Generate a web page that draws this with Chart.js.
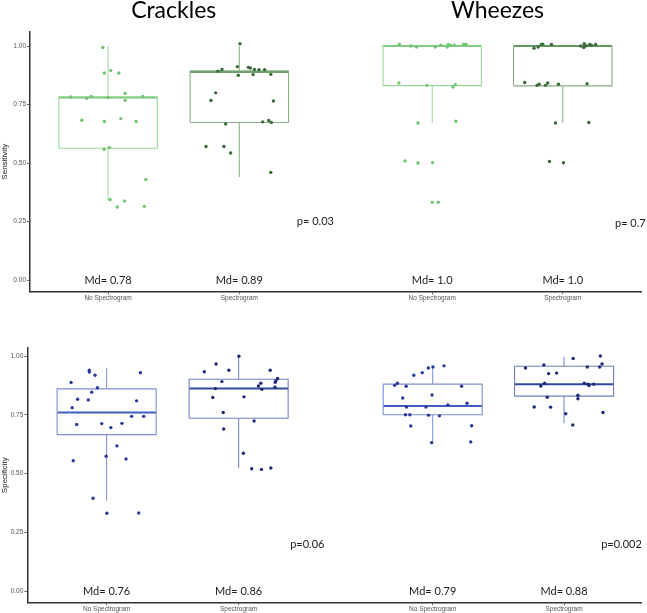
<!DOCTYPE html>
<html lang="en">

<head>
    <meta charset="UTF-8">
    <title>Crackles / Wheezes</title>
    <script src="https://cdn.jsdelivr.net/npm/chart.js@4.4.1/dist/chart.umd.min.js"></script>
    <style>
        body { margin: 0; background: #fff; }
        #wrap { position: relative; width: 647px; height: 613px; }
        #topChart { position: absolute; left: 0; top: 0; }
        #bottomChart { position: absolute; left: 0; top: 305px; }
    </style>
</head>

<body>
    <div id="wrap">
        <canvas id="topChart" width="647" height="305"></canvas>
        <canvas id="bottomChart" width="647" height="308"></canvas>
    </div>

<script>
    // categories / labels
    const xLabels = ['No Spectrogram', 'Spectrogram', 'No Spectrogram', 'Spectrogram'];
    const sounds = ['Crackles', 'Wheezes'];
    const yTicks = [0, 0.25, 0.5, 0.75, 1];

    // box stats per group: [lower whisker, q1, median, q3, upper whisker]
    const sensBoxes = [
        [0.34, 0.563, 0.78, 0.782, 1.0],
        [0.44, 0.673, 0.89, 0.893, 1.0],
        [0.672, 0.831, 1.0, 1.0, 1.0],
        [0.672, 0.83, 1.0, 1.0, 1.0]
    ];
    const specBoxes = [
        [0.385, 0.666, 0.76, 0.861, 0.949],
        [0.523, 0.736, 0.862, 0.902, 1.0],
        [0.631, 0.751, 0.788, 0.881, 0.956],
        [0.715, 0.83, 0.881, 0.957, 0.997]
    ];

    const sensMd = ['Md= 0.78', 'Md= 0.89', 'Md= 1.0', 'Md= 1.0'];
    const specMd = ['Md= 0.76', 'Md= 0.86', 'Md= 0.79', 'Md= 0.88'];
    const sensP = ['p= 0.03', 'p= 0.7'];
    const specP = ['p=0.06', 'p=0.002'];

    // individual values and their horizontal jitter
    const sensCrackNo = [0.994, 0.885, 0.895, 0.885, 0.797, 0.768, 0.782, 0.777, 0.785, 0.78, 0.785,
        0.683, 0.678, 0.69, 0.678, 0.559, 0.566, 0.43, 0.344, 0.338, 0.312, 0.315];
    const sensCrackNoJit = [-0.04, -0.028, 0.02, 0.082, 0.13, 0.13, -0.285, -0.163, -0.127, 0.0, 0.265,
        -0.2, -0.028, 0.097, 0.214, -0.03, 0.01, 0.288, 0.015, 0.125, 0.07, 0.277];

    const sensCrackSpec = [1.01, 0.9, 0.893, 0.912, 0.875, 0.909, 0.906, 0.9, 0.899, 0.899, 0.878, 0.879,
        0.8, 0.767, 0.765, 0.667, 0.676, 0.682, 0.673, 0.571, 0.571, 0.543, 0.46];
    const sensCrackSpecJit = [0.005, -0.132, -0.163, -0.015, -0.008, 0.069, 0.084, 0.115, 0.15, 0.193, 0.105, 0.24,
        -0.18, -0.216, 0.26, -0.104, 0.178, 0.224, 0.244, -0.254, -0.117, -0.066, 0.24];

    const sensWheezeNo = [1.007, 1.0, 0.996, 0.996, 1.004, 1.007, 0.996, 1.004, 1.004, 1.007, 1.008,
        0.842, 0.832, 0.825, 0.835, 0.671, 0.679, 0.509, 0.5, 0.502, 0.332, 0.333];
    const sensWheezeNoJit = [-0.25, -0.163, -0.12, 0.023, 0.066, 0.122, 0.115, 0.14, 0.168, 0.239, 0.257,
        -0.254, -0.04, 0.158, 0.176, -0.109, 0.18, -0.208, -0.109, 0.003, 0.0, 0.046];

    const sensWheezeSpec = [0.991, 0.996, 1.007, 1.008, 1.007, 1.0, 0.994, 1.01, 1.001, 1.007, 1.003, 1.007,
        0.844, 0.832, 0.837, 0.832, 0.842, 0.837, 0.839, 0.671, 0.673, 0.507, 0.501];
    const sensWheezeSpecJit = [-0.219, -0.188, -0.163, -0.153, -0.086, 0.137, 0.16, 0.163, 0.178, 0.206, 0.219, 0.25,
        -0.29, -0.196, -0.181, -0.132, -0.115, -0.033, 0.185, -0.056, 0.198, -0.102, 0.005];

    const specCrackNo = [0.94, 0.933, 0.919, 0.93, 0.888, 0.866, 0.847, 0.817, 0.814, 0.81, 0.781, 0.744,
        0.744, 0.709, 0.713, 0.696, 0.714, 0.618, 0.555, 0.574, 0.562, 0.395, 0.331, 0.332];
    const specCrackNoJit = [-0.131, -0.131, -0.088, 0.256, -0.269, -0.07, -0.113, -0.22, -0.139, 0.227, -0.261, 0.189,
        0.281, -0.227, -0.037, 0.032, 0.116, 0.078, -0.253, -0.004, 0.147, -0.103, 0.002, 0.243];

    const specCrackSpec = [1.0, 0.934, 0.967, 0.94, 0.94, 0.892, 0.862, 0.824, 0.827, 0.873, 0.885, 0.859,
        0.889, 0.895, 0.905, 0.868, 0.76, 0.69, 0.724, 0.587, 0.521, 0.518, 0.524];
    const specCrackSpecJit = [0.002, -0.26, -0.171, -0.074, 0.239, -0.127, -0.176, -0.196, 0.04, 0.15, 0.168, 0.176,
        0.277, 0.282, 0.295, 0.275, -0.117, -0.113, 0.117, 0.036, 0.099, 0.173, 0.244];

    const specWheezeNo = [0.959, 0.954, 0.95, 0.93, 0.919, 0.876, 0.885, 0.872, 0.872, 0.822, 0.835, 0.8,
        0.784, 0.784, 0.792, 0.751, 0.751, 0.749, 0.746, 0.703, 0.704, 0.632, 0.635];
    const specWheezeNoJit = [0.086, 0.002, -0.033, -0.079, -0.143, -0.288, -0.267, -0.201, 0.219, -0.227, -0.005, 0.26,
        -0.198, -0.051, 0.115, -0.206, -0.173, -0.031, 0.051, -0.166, 0.295, -0.008, 0.288];

    const specWheezeSpec = [0.99, 1.001, 0.95, 0.963, 0.954, 0.954, 0.967, 0.926, 0.928, 0.873, 0.885, 0.885,
        0.875, 0.881, 0.881, 0.834, 0.819, 0.825, 0.784, 0.783, 0.755, 0.707, 0.76];
    const specWheezeSpecJit = [0.069, 0.275, -0.292, -0.153, 0.176, 0.27, 0.288, -0.117, -0.056, -0.176, -0.147, 0.153,
        0.189, 0.181, 0.224, 0.105, 0.105, -0.127, -0.226, -0.102, 0.013, 0.066, 0.295];

    // layout
    const catPos = [1, 2, 3.47, 4.465];
    const halfBox = 0.375;

    const greenStyle = [
        { box: '#9ad89a', mid: '#6cc26c', dot: '#72c472' },
        { box: '#86ad86', mid: '#3f7f3f', dot: '#3b693b' }
    ];
    const blueStyle = [
        { box: '#7d8fd6', mid: '#3f5fc0', dot: '#2b3a9a' },
        { box: '#6f7fbf', mid: '#2f4a9e', dot: '#1f2a78' }
    ];

    function lineSet(points, color, width) {
        return {
            type: 'scatter', data: points, showLine: true, fill: false,
            borderColor: color, borderWidth: width, pointRadius: 0, order: 2
        };
    }

    function buildDatasets(boxes, values, jitters, styles) {
        const sets = [];
        boxes.forEach((b, i) => {
            const c = catPos[i];
            const st = styles[i % 2];
            const lo = b[0], q1 = b[1], med = b[2], q3 = b[3], hi = b[4];
            sets.push(lineSet([{ x: c, y: q3 }, { x: c, y: hi }], st.box, 1));
            sets.push(lineSet([{ x: c, y: lo }, { x: c, y: q1 }], st.box, 1));
            sets.push(lineSet([
                { x: c - halfBox, y: q1 }, { x: c + halfBox, y: q1 }, { x: c + halfBox, y: q3 },
                { x: c - halfBox, y: q3 }, { x: c - halfBox, y: q1 }], st.box, 1.1));
            sets.push(lineSet([{ x: c - halfBox, y: med }, { x: c + halfBox, y: med }], st.mid, 2));
            sets.push({
                type: 'scatter',
                data: values[i].map((v, k) => ({ x: c + jitters[i][k], y: v })),
                pointRadius: 1.7, pointBorderWidth: 0, backgroundColor: st.dot, order: 1
            });
        });
        return sets;
    }

    const textPlugin = {
        id: 'panelText',
        afterDatasetsDraw(chart, args, opts) {
            const ctx = chart.ctx;
            const xs = chart.scales.x, ys = chart.scales.y;
            ctx.save();
            ctx.fillStyle = '#1b1b1b';
            ctx.textAlign = 'center';
            ctx.textBaseline = 'middle';
            ctx.font = '11px Lato, "Liberation Sans", sans-serif';
            opts.md.forEach((t, i) => ctx.fillText(t, xs.getPixelForValue(catPos[i]), ys.getPixelForValue(0)));
            opts.p.forEach((t, i) => ctx.fillText(t, xs.getPixelForValue(opts.pAt[i][0]), ys.getPixelForValue(opts.pAt[i][1])));
            if (opts.titles) {
                ctx.font = '23px Lato, "Liberation Sans", sans-serif';
                ctx.fillStyle = '#000';
                ctx.textBaseline = 'alphabetic';
                opts.titles.forEach((t, i) => {
                    const cx = (xs.getPixelForValue(catPos[2 * i]) + xs.getPixelForValue(catPos[2 * i + 1])) / 2;
                    ctx.fillText(t, cx, 18);
                });
            }
            ctx.restore();
        }
    };

    function createPanel(id, cfg) {
        return new Chart(document.getElementById(id), {
            type: 'scatter',
            data: { datasets: buildDatasets(cfg.boxes, cfg.values, cfg.jitters, cfg.styles) },
            options: {
                responsive: false,
                animation: false,
                layout: { padding: { left: 0, top: cfg.top, right: 6, bottom: 0 } },
                plugins: {
                    legend: { display: false },
                    tooltip: { enabled: false },
                    panelText: { md: cfg.md, p: cfg.p, pAt: cfg.pAt, titles: cfg.titles }
                },
                scales: {
                    x: {
                        type: 'linear', min: cfg.xMin, max: cfg.xMax,
                        afterBuildTicks: s => { s.ticks = catPos.map(v => ({ value: v })); },
                        afterFit: s => { s.height = cfg.xHeight; },
                        ticks: {
                            callback: (v, i) => xLabels[i],
                            font: { size: 6.5, family: '"Liberation Sans", Arial' },
                            color: '#555', padding: 0, maxRotation: 0, autoSkip: false
                        },
                        grid: { drawOnChartArea: false, drawTicks: true, tickLength: 3, color: '#666' },
                        border: { display: true, color: '#333', width: 1.5 }
                    },
                    y: {
                        min: cfg.yMin, max: cfg.yMax,
                        afterBuildTicks: s => { s.ticks = yTicks.map(v => ({ value: v })); },
                        afterFit: s => { s.width = cfg.yWidth; },
                        ticks: {
                            callback: v => v.toFixed(2),
                            font: { size: 6.5, family: '"Liberation Sans", Arial' },
                            color: '#555', padding: 1
                        },
                        title: {
                            display: true, text: cfg.yTitle, color: '#222',
                            font: { size: 8, family: '"Liberation Sans", Arial' },
                            padding: { top: 0, bottom: 2 }
                        },
                        grid: { drawOnChartArea: false, drawTicks: true, tickLength: 3, color: '#666' },
                        border: { display: true, color: '#333', width: 1.5 }
                    }
                }
            },
            plugins: [textPlugin]
        });
    }

    createPanel('topChart', {
        boxes: sensBoxes,
        values: [sensCrackNo, sensCrackSpec, sensWheezeNo, sensWheezeSpec],
        jitters: [sensCrackNoJit, sensCrackSpecJit, sensWheezeNoJit, sensWheezeSpecJit],
        styles: greenStyle,
        md: sensMd, p: sensP, pAt: [[2.58, 0.252], [4.98, 0.24]],
        titles: sounds,
        yTitle: 'Sensitivity',
        top: 32, xHeight: 13.7, yWidth: 30,
        xMin: 0.405, xMax: 5.061, yMin: -0.048, yMax: 1.06
    });

    createPanel('bottomChart', {
        boxes: specBoxes,
        values: [specCrackNo, specCrackSpec, specWheezeNo, specWheezeSpec],
        jitters: [specCrackNoJit, specCrackSpecJit, specWheezeNoJit, specWheezeSpecJit],
        styles: blueStyle,
        md: specMd, p: specP, pAt: [[2.52, 0.2], [4.9, 0.2]],
        titles: null,
        yTitle: 'Specificity',
        top: 43, xHeight: 10.7, yWidth: 27.3,
        xMin: 0.399, xMax: 5.048, yMin: -0.048, yMax: 1.035
    });
</script>
</body>

</html>
